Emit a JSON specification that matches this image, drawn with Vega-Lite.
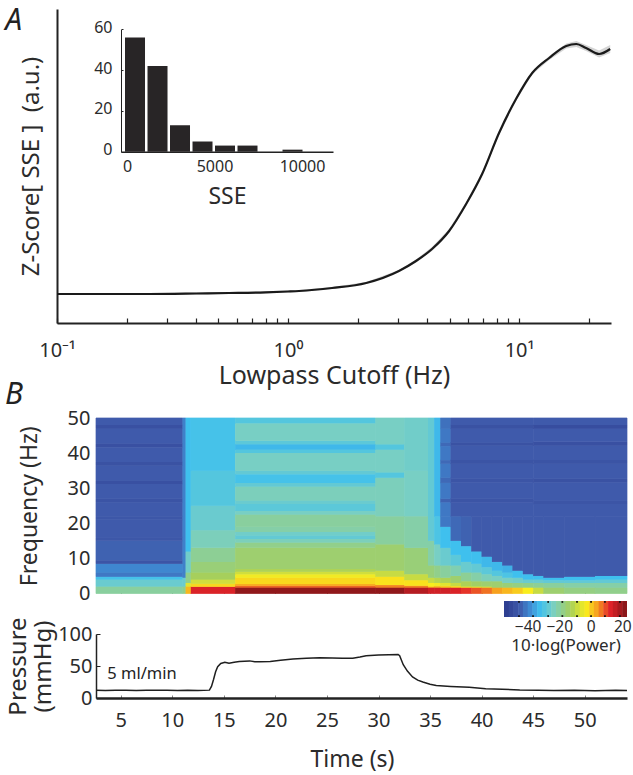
{"$schema":"https://vega.github.io/schema/vega-lite/v6.json","background":"white","padding":{"left":5,"top":5,"right":0,"bottom":12},"bounds":"flush","spacing":95,"config":{"view":{"stroke":null},"font":"Noto Sans","text":{"font":"Noto Sans"},"axis":{"labelColor":"#2b2b2b","titleColor":"#2b2b2b","titleFontWeight":"normal","grid":false,"labelFont":"Noto Sans","titleFont":"Noto Sans"},"legend":{"labelColor":"#2b2b2b","titleColor":"#2b2b2b","labelFont":"Noto Sans","titleFont":"Noto Sans"}},
"datasets":{
"curve":[{"f":0.1,"z":29,"lo":28,"hi":30},{"f":0.15,"z":29,"lo":28,"hi":30},{"f":0.25,"z":29,"lo":28,"hi":30},{"f":0.4,"z":29.5,"lo":28.5,"hi":30.5},{"f":0.556,"z":30,"lo":29,"hi":31},{"f":0.8,"z":30.7,"lo":29.7,"hi":31.7},{"f":1,"z":31.5,"lo":30.5,"hi":32.5},{"f":1.116,"z":32,"lo":31,"hi":33},{"f":1.55,"z":35,"lo":34,"hi":36},{"f":2.18,"z":40,"lo":39,"hi":41},{"f":3.02,"z":52,"lo":51,"hi":53},{"f":3.58,"z":62,"lo":60.5,"hi":63.5},{"f":4.2,"z":74,"lo":72,"hi":76},{"f":4.98,"z":92,"lo":90,"hi":94},{"f":5.9,"z":119,"lo":117,"hi":121},{"f":6.92,"z":149,"lo":147,"hi":151},{"f":8.19,"z":190,"lo":188,"hi":192},{"f":9.7,"z":224,"lo":222,"hi":226},{"f":11.4,"z":250,"lo":248.5,"hi":251.5},{"f":13.5,"z":265,"lo":263,"hi":267},{"f":16,"z":277,"lo":274.5,"hi":279.5},{"f":17.7,"z":279,"lo":276,"hi":282},{"f":19.5,"z":275,"lo":272,"hi":278},{"f":22.2,"z":269,"lo":265.5,"hi":272.5},{"f":24.8,"z":274,"lo":270,"hi":278}],
"hist":[{"a":-114,"b":1029,"n":56},{"a":1172,"b":2315,"n":42},{"a":2457,"b":3600,"n":13},{"a":3743,"b":4886,"n":5},{"a":5029,"b":6172,"n":3},{"a":6314,"b":7457,"n":3},{"a":8886,"b":10029,"n":1}],
"bar":[{"a":-55,"b":-51.7,"v":-53.5},{"a":-52,"b":-48.7,"v":-50.5},{"a":-49,"b":-45.7,"v":-47.5},{"a":-46,"b":-42.7,"v":-44.5},{"a":-43,"b":-39.7,"v":-41.5},{"a":-40,"b":-36.7,"v":-38.5},{"a":-37,"b":-33.7,"v":-35.5},{"a":-34,"b":-30.7,"v":-32.5},{"a":-31,"b":-27.7,"v":-29.5},{"a":-28,"b":-24.7,"v":-26.5},{"a":-25,"b":-21.7,"v":-23.5},{"a":-22,"b":-18.7,"v":-20.5},{"a":-19,"b":-15.7,"v":-17.5},{"a":-16,"b":-12.7,"v":-14.5},{"a":-13,"b":-9.7,"v":-11.5},{"a":-10,"b":-6.7,"v":-8.5},{"a":-7,"b":-3.7,"v":-5.5},{"a":-4,"b":-0.7,"v":-2.5},{"a":-1,"b":2.3,"v":0.5},{"a":2,"b":5.3,"v":3.5},{"a":5,"b":8.3,"v":6.5},{"a":8,"b":11.3,"v":9.5},{"a":11,"b":14.3,"v":12.5},{"a":14,"b":17.3,"v":15.5},{"a":17,"b":20.3,"v":18.5},{"a":20,"b":23,"v":21.5}],
"dots":[{"v":-45.5,"y":0.06},{"v":-36.6,"y":0.06},{"v":-27,"y":0.06},{"v":-18,"y":0.06},{"v":-8.7,"y":0.06},{"v":0.2,"y":0.06},{"v":9,"y":0.06},{"v":18.5,"y":0.06},{"v":-45.5,"y":0.94},{"v":-36.6,"y":0.94},{"v":-27,"y":0.94},{"v":-18,"y":0.94},{"v":-8.7,"y":0.94},{"v":0.2,"y":0.94},{"v":9,"y":0.94},{"v":18.5,"y":0.94}],
"press":[{"t":2.6,"p":12},{"t":3.5,"p":11.7},{"t":4.5,"p":12.2},{"t":5.5,"p":12},{"t":6.5,"p":11.8},{"t":7.5,"p":12.3},{"t":8.5,"p":12},{"t":9.5,"p":12.3},{"t":10.5,"p":11.9},{"t":11.5,"p":12.2},{"t":12.5,"p":11.9},{"t":13.6,"p":12.3},{"t":13.8,"p":18},{"t":14,"p":29},{"t":14.2,"p":41},{"t":14.4,"p":49},{"t":14.7,"p":54},{"t":15.1,"p":56},{"t":15.5,"p":54.5},{"t":16,"p":56},{"t":16.5,"p":57},{"t":17,"p":57.5},{"t":17.5,"p":58},{"t":18,"p":56.5},{"t":18.5,"p":56.5},{"t":19.5,"p":57},{"t":20.5,"p":59},{"t":21.7,"p":61},{"t":23,"p":62},{"t":24.3,"p":63},{"t":25.5,"p":62.5},{"t":26.5,"p":62},{"t":27.5,"p":62},{"t":28.2,"p":64},{"t":28.8,"p":66},{"t":30,"p":67},{"t":31,"p":67.5},{"t":31.9,"p":68},{"t":32.05,"p":66},{"t":32.4,"p":52},{"t":32.8,"p":42},{"t":33.3,"p":33},{"t":33.8,"p":28},{"t":34.3,"p":25},{"t":35,"p":21.5},{"t":35.6,"p":19.5},{"t":37,"p":18},{"t":38.8,"p":16.7},{"t":40.4,"p":14.6},{"t":42,"p":13.8},{"t":43.7,"p":12.5},{"t":45.5,"p":12},{"t":47,"p":11.7},{"t":49,"p":12},{"t":51,"p":11.5},{"t":53,"p":12},{"t":54.1,"p":11.7}],
"heat":[
{"t":2.6,"t2":11,"f":0,"f2":2,"v":-20},{"t":2.6,"t2":11,"f":2,"f2":4,"v":-26},{"t":2.6,"t2":11,"f":4,"f2":4.8,"v":-31},{"t":2.6,"t2":11,"f":4.8,"f2":6,"v":-41},{"t":2.6,"t2":11,"f":6,"f2":8.5,"v":-39},{"t":2.6,"t2":11,"f":8.5,"f2":9.5,"v":-46.5},{"t":2.6,"t2":11,"f":9.5,"f2":15,"v":-44},{"t":2.6,"t2":11,"f":15,"f2":16,"v":-46},{"t":2.6,"t2":11,"f":16,"f2":21,"v":-45},{"t":2.6,"t2":11,"f":21,"f2":22,"v":-46},{"t":2.6,"t2":11,"f":22,"f2":26,"v":-45},{"t":2.6,"t2":11,"f":26,"f2":27,"v":-47},{"t":2.6,"t2":11,"f":27,"f2":31.2,"v":-45},{"t":2.6,"t2":11,"f":31.2,"f2":32.2,"v":-48},{"t":2.6,"t2":11,"f":32.2,"f2":36.5,"v":-45},{"t":2.6,"t2":11,"f":36.5,"f2":37.5,"v":-47.5},{"t":2.6,"t2":11,"f":37.5,"f2":41.7,"v":-45},{"t":2.6,"t2":11,"f":41.7,"f2":42.7,"v":-48},{"t":2.6,"t2":11,"f":42.7,"f2":47,"v":-45},{"t":2.6,"t2":11,"f":47,"f2":48,"v":-48},{"t":2.6,"t2":11,"f":48,"f2":50,"v":-45},
{"t":11,"t2":11.3,"f":0,"f2":2,"v":-18},{"t":11,"t2":11.3,"f":2,"f2":4.5,"v":-26},{"t":11,"t2":11.3,"f":4.5,"f2":50,"v":-40},
{"t":11.3,"t2":11.8,"f":0,"f2":2,"v":2},{"t":11.3,"t2":11.8,"f":2,"f2":3,"v":-6},{"t":11.3,"t2":11.8,"f":3,"f2":6,"v":-18},{"t":11.3,"t2":11.8,"f":6,"f2":12,"v":-25},{"t":11.3,"t2":11.8,"f":12,"f2":50,"v":-32},
{"t":11.8,"t2":16.1,"f":0,"f2":1.9,"v":13},{"t":11.8,"t2":16.1,"f":1.9,"f2":2.8,"v":-1},{"t":11.8,"t2":16.1,"f":2.8,"f2":4,"v":-8},{"t":11.8,"t2":16.1,"f":4,"f2":6,"v":-13},{"t":11.8,"t2":16.1,"f":6,"f2":9,"v":-16},{"t":11.8,"t2":16.1,"f":9,"f2":13,"v":-19},{"t":11.8,"t2":16.1,"f":13,"f2":18,"v":-23},{"t":11.8,"t2":16.1,"f":18,"f2":25,"v":-26},{"t":11.8,"t2":16.1,"f":25,"f2":35,"v":-29},{"t":11.8,"t2":16.1,"f":35,"f2":50,"v":-31},
{"t":16.1,"t2":29.7,"f":0,"f2":1.7,"v":21},{"t":16.1,"t2":29.7,"f":1.7,"f2":2.2,"v":8},{"t":16.1,"t2":29.7,"f":2.2,"f2":2.7,"v":3},{"t":16.1,"t2":29.7,"f":2.7,"f2":4.5,"v":-1},{"t":16.1,"t2":29.7,"f":4.5,"f2":5.5,"v":-4},{"t":16.1,"t2":29.7,"f":5.5,"f2":6.2,"v":-8},{"t":16.1,"t2":29.7,"f":6.2,"f2":7,"v":-12},{"t":16.1,"t2":29.7,"f":7,"f2":13,"v":-15},{"t":16.1,"t2":29.7,"f":13,"f2":14.5,"v":-18},{"t":16.1,"t2":29.7,"f":14.5,"f2":15.5,"v":-23},{"t":16.1,"t2":29.7,"f":15.5,"f2":16.5,"v":-27},{"t":16.1,"t2":29.7,"f":16.5,"f2":17.5,"v":-25},{"t":16.1,"t2":29.7,"f":17.5,"f2":19,"v":-21},{"t":16.1,"t2":29.7,"f":19,"f2":22.5,"v":-20},{"t":16.1,"t2":29.7,"f":22.5,"f2":23.5,"v":-24},{"t":16.1,"t2":29.7,"f":23.5,"f2":25.5,"v":-28},{"t":16.1,"t2":29.7,"f":25.5,"f2":26.5,"v":-26},{"t":16.1,"t2":29.7,"f":26.5,"f2":30.5,"v":-23},{"t":16.1,"t2":29.7,"f":30.5,"f2":31.5,"v":-27},{"t":16.1,"t2":29.7,"f":31.5,"f2":34,"v":-31},{"t":16.1,"t2":29.7,"f":34,"f2":35,"v":-27},{"t":16.1,"t2":29.7,"f":35,"f2":40,"v":-24},{"t":16.1,"t2":29.7,"f":40,"f2":41,"v":-29},{"t":16.1,"t2":29.7,"f":41,"f2":42.5,"v":-33},{"t":16.1,"t2":29.7,"f":42.5,"f2":43.5,"v":-28},{"t":16.1,"t2":29.7,"f":43.5,"f2":48.5,"v":-24},{"t":16.1,"t2":29.7,"f":48.5,"f2":50,"v":-29},
{"t":29.7,"t2":32.5,"f":0,"f2":1.7,"v":21},{"t":29.7,"t2":32.5,"f":1.7,"f2":2.4,"v":6},{"t":29.7,"t2":32.5,"f":2.4,"f2":4.8,"v":-2},{"t":29.7,"t2":32.5,"f":4.8,"f2":6.5,"v":-9},{"t":29.7,"t2":32.5,"f":6.5,"f2":14,"v":-15},{"t":29.7,"t2":32.5,"f":14,"f2":22,"v":-20},{"t":29.7,"t2":32.5,"f":22,"f2":33,"v":-23},{"t":29.7,"t2":32.5,"f":33,"f2":34.5,"v":-29},{"t":29.7,"t2":32.5,"f":34.5,"f2":41,"v":-24},{"t":29.7,"t2":32.5,"f":41,"f2":42.5,"v":-29},{"t":29.7,"t2":32.5,"f":42.5,"f2":50,"v":-24},
{"t":32.5,"t2":34.8,"f":0,"f2":1.7,"v":17},{"t":32.5,"t2":34.8,"f":1.7,"f2":2.2,"v":6},{"t":32.5,"t2":34.8,"f":2.2,"f2":3.8,"v":-2},{"t":32.5,"t2":34.8,"f":3.8,"f2":5.5,"v":-9},{"t":32.5,"t2":34.8,"f":5.5,"f2":13,"v":-16},{"t":32.5,"t2":34.8,"f":13,"f2":22,"v":-21},{"t":32.5,"t2":34.8,"f":22,"f2":35,"v":-24},{"t":32.5,"t2":34.8,"f":35,"f2":50,"v":-25},
{"t":34.8,"t2":35.4,"f":0,"f2":1.7,"v":14},{"t":34.8,"t2":35.4,"f":1.7,"f2":2,"v":3},{"t":34.8,"t2":35.4,"f":2,"f2":3,"v":-3},{"t":34.8,"t2":35.4,"f":3,"f2":4.5,"v":-9},{"t":34.8,"t2":35.4,"f":4.5,"f2":8,"v":-16},{"t":34.8,"t2":35.4,"f":8,"f2":15,"v":-21},{"t":34.8,"t2":35.4,"f":15,"f2":50,"v":-27},
{"t":35.4,"t2":36,"f":0,"f2":1.7,"v":14},{"t":35.4,"t2":36,"f":1.7,"f2":2.1,"v":3},{"t":35.4,"t2":36,"f":2.1,"f2":3,"v":-4},{"t":35.4,"t2":36,"f":3,"f2":4.5,"v":-11},{"t":35.4,"t2":36,"f":4.5,"f2":8,"v":-18},{"t":35.4,"t2":36,"f":8,"f2":14,"v":-24},{"t":35.4,"t2":36,"f":14,"f2":22,"v":-30},{"t":35.4,"t2":36,"f":22,"f2":50,"v":-33},
{"t":36,"t2":37,"f":0,"f2":1.7,"v":14},{"t":36,"t2":37,"f":1.7,"f2":2.2,"v":0},{"t":36,"t2":37,"f":2.2,"f2":3,"v":-6},{"t":36,"t2":37,"f":3,"f2":4.5,"v":-12},{"t":36,"t2":37,"f":4.5,"f2":8,"v":-20},{"t":36,"t2":37,"f":8,"f2":13,"v":-26},{"t":36,"t2":37,"f":13,"f2":19,"v":-32},{"t":36,"t2":37,"f":19,"f2":22,"v":-41},
{"t":37,"t2":38,"f":0,"f2":1.7,"v":13},{"t":37,"t2":38,"f":1.7,"f2":2.1,"v":-1},{"t":37,"t2":38,"f":2.1,"f2":3,"v":-9},{"t":37,"t2":38,"f":3,"f2":5,"v":-15},{"t":37,"t2":38,"f":5,"f2":8,"v":-22},{"t":37,"t2":38,"f":8,"f2":11,"v":-28},{"t":37,"t2":38,"f":11,"f2":15,"v":-32},{"t":37,"t2":38,"f":15,"f2":22,"v":-43},
{"t":38,"t2":39,"f":0,"f2":1.7,"v":11},{"t":38,"t2":39,"f":1.7,"f2":2,"v":-4},{"t":38,"t2":39,"f":2,"f2":3.5,"v":-12},{"t":38,"t2":39,"f":3.5,"f2":6,"v":-19},{"t":38,"t2":39,"f":6,"f2":9,"v":-26},{"t":38,"t2":39,"f":9,"f2":13.5,"v":-32},{"t":38,"t2":39,"f":13.5,"f2":22,"v":-44},
{"t":39,"t2":40,"f":0,"f2":1.7,"v":9},{"t":39,"t2":40,"f":1.7,"f2":2,"v":-5},{"t":39,"t2":40,"f":2,"f2":3.5,"v":-14},{"t":39,"t2":40,"f":3.5,"f2":6,"v":-21},{"t":39,"t2":40,"f":6,"f2":8.5,"v":-27},{"t":39,"t2":40,"f":8.5,"f2":12,"v":-32},{"t":39,"t2":40,"f":12,"f2":22,"v":-45},
{"t":40,"t2":41,"f":0,"f2":1.7,"v":7},{"t":40,"t2":41,"f":1.7,"f2":2,"v":-7},{"t":40,"t2":41,"f":2,"f2":3.5,"v":-15},{"t":40,"t2":41,"f":3.5,"f2":5.5,"v":-23},{"t":40,"t2":41,"f":5.5,"f2":7.5,"v":-28},{"t":40,"t2":41,"f":7.5,"f2":10.5,"v":-33},{"t":40,"t2":41,"f":10.5,"f2":22,"v":-45},
{"t":41,"t2":42,"f":0,"f2":1.7,"v":4},{"t":41,"t2":42,"f":1.7,"f2":3.5,"v":-15},{"t":41,"t2":42,"f":3.5,"f2":5,"v":-24},{"t":41,"t2":42,"f":5,"f2":6.5,"v":-29},{"t":41,"t2":42,"f":6.5,"f2":9,"v":-33},{"t":41,"t2":42,"f":9,"f2":22,"v":-45},
{"t":42,"t2":43,"f":0,"f2":1.7,"v":2},{"t":42,"t2":43,"f":1.7,"f2":3,"v":-16},{"t":42,"t2":43,"f":3,"f2":4.5,"v":-24},{"t":42,"t2":43,"f":4.5,"f2":6,"v":-30},{"t":42,"t2":43,"f":6,"f2":8,"v":-34},{"t":42,"t2":43,"f":8,"f2":22,"v":-45},
{"t":43,"t2":44,"f":0,"f2":1.7,"v":0},{"t":43,"t2":44,"f":1.7,"f2":3,"v":-17},{"t":43,"t2":44,"f":3,"f2":4.5,"v":-25},{"t":43,"t2":44,"f":4.5,"f2":6.5,"v":-32},{"t":43,"t2":44,"f":6.5,"f2":22,"v":-45},
{"t":44,"t2":45,"f":0,"f2":1.7,"v":-3},{"t":44,"t2":45,"f":1.7,"f2":3,"v":-18},{"t":44,"t2":45,"f":3,"f2":4,"v":-26},{"t":44,"t2":45,"f":4,"f2":5.5,"v":-32},{"t":44,"t2":45,"f":5.5,"f2":22,"v":-45},
{"t":45,"t2":46,"f":0,"f2":1.7,"v":-9},{"t":45,"t2":46,"f":1.7,"f2":3,"v":-19},{"t":45,"t2":46,"f":3,"f2":4,"v":-26},{"t":45,"t2":46,"f":4,"f2":5,"v":-32},{"t":45,"t2":46,"f":5,"f2":22,"v":-45},
{"t":46,"t2":48,"f":0,"f2":1.7,"v":-15},{"t":46,"t2":48,"f":1.7,"f2":3,"v":-20},{"t":46,"t2":48,"f":3,"f2":3.8,"v":-27},{"t":46,"t2":48,"f":3.8,"f2":4.5,"v":-32},{"t":46,"t2":48,"f":4.5,"f2":22,"v":-45},
{"t":48,"t2":51,"f":0,"f2":1.7,"v":-17},{"t":48,"t2":51,"f":1.7,"f2":3,"v":-21},{"t":48,"t2":51,"f":3,"f2":3.8,"v":-27},{"t":48,"t2":51,"f":3.8,"f2":4.8,"v":-32},{"t":48,"t2":51,"f":4.8,"f2":22,"v":-45},
{"t":51,"t2":54.1,"f":0,"f2":1.7,"v":-18},{"t":51,"t2":54.1,"f":1.7,"f2":3,"v":-21},{"t":51,"t2":54.1,"f":3,"f2":4,"v":-27},{"t":51,"t2":54.1,"f":4,"f2":5,"v":-32},{"t":51,"t2":54.1,"f":5,"f2":22,"v":-45},
{"t":36,"t2":37,"f":22,"f2":26,"v":-41},{"t":36,"t2":37,"f":26,"f2":27,"v":-44},{"t":36,"t2":37,"f":27,"f2":31.5,"v":-41},{"t":36,"t2":37,"f":31.5,"f2":33,"v":-43},{"t":36,"t2":37,"f":33,"f2":37,"v":-41},{"t":36,"t2":37,"f":37,"f2":38,"v":-43},{"t":36,"t2":37,"f":38,"f2":42,"v":-41},{"t":36,"t2":37,"f":42,"f2":43,"v":-43},{"t":36,"t2":37,"f":43,"f2":47,"v":-41},{"t":36,"t2":37,"f":47,"f2":50,"v":-42},
{"t":37,"t2":45,"f":22,"f2":26,"v":-45},{"t":37,"t2":45,"f":26,"f2":27,"v":-46.5},{"t":37,"t2":45,"f":27,"f2":31.7,"v":-45},{"t":37,"t2":45,"f":31.7,"f2":32.7,"v":-46.5},{"t":37,"t2":45,"f":32.7,"f2":37,"v":-45},{"t":37,"t2":45,"f":37,"f2":38,"v":-47},{"t":37,"t2":45,"f":38,"f2":42.2,"v":-45},{"t":37,"t2":45,"f":42.2,"f2":43,"v":-47.5},{"t":37,"t2":45,"f":43,"f2":47,"v":-45},{"t":37,"t2":45,"f":47,"f2":48,"v":-47.5},{"t":37,"t2":45,"f":48,"f2":50,"v":-45},
{"t":45,"t2":54.1,"f":22,"f2":25.5,"v":-45},{"t":45,"t2":54.1,"f":25.5,"f2":26.5,"v":-46.5},{"t":45,"t2":54.1,"f":26.5,"f2":31.7,"v":-45},{"t":45,"t2":54.1,"f":31.7,"f2":32.7,"v":-47.5},{"t":45,"t2":54.1,"f":32.7,"f2":37,"v":-45},{"t":45,"t2":54.1,"f":37,"f2":38,"v":-47},{"t":45,"t2":54.1,"f":38,"f2":42.2,"v":-45},{"t":45,"t2":54.1,"f":42.2,"f2":43.2,"v":-48},{"t":45,"t2":54.1,"f":43.2,"f2":47,"v":-45},{"t":45,"t2":54.1,"f":47,"f2":48,"v":-49},{"t":45,"t2":54.1,"f":48,"f2":50,"v":-45}
]},
"vconcat":[
{"width":554,"height":314,"resolve":{"scale":{"x":"independent","y":"independent"},"axis":{"x":"independent","y":"independent"}},
"layer":[
{"layer":[
{"data":{"name":"curve"},"mark":{"type":"area","color":"#c9c9c9","opacity":0.8},"encoding":{"x":{"field":"f","type":"quantitative","scale":{"type":"log","domain":[0.1,25],"nice":false},"axis":{"values":[0.1,0.2,0.3,0.4,0.5,0.6,0.7,0.8,0.9,1,2,3,4,5,6,7,8,9,10,20],"domainWidth":2,"domainColor":"#222","tickColor":"#222","tickWidth":1.2,"tickSize":-5,"encoding":{"ticks":{"update":{"y2":{"signal":"datum.value==1||datum.value==10||datum.value==0.1?-11:-5"}}}},"labelFontSize":20,"labelExpr":"datum.value==0.1?'10⁻¹':datum.value==1?'10⁰':datum.value==10?'10¹':''","labelPadding":22,"labelOverlap":false,"labelBound":false,"labelFlush":false,"title":"Lowpass Cutoff (Hz)","titleFontSize":25,"titlePadding":3}},"y":{"field":"lo","type":"quantitative","scale":{"domain":[0,314],"nice":false},"axis":{"ticks":false,"labels":false,"domainWidth":2,"domainColor":"#222","title":"Z-Score[ SSE ]\u00a0\u00a0(a.u.)","titleFontSize":24,"titlePadding":14}},"y2":{"field":"hi"}}},
{"data":{"name":"curve"},"mark":{"type":"line","color":"#1a1a1a","strokeWidth":2.2,"interpolate":"monotone"},"encoding":{"x":{"field":"f","type":"quantitative","axis":{"values":[0.1,0.2,0.3,0.4,0.5,0.6,0.7,0.8,0.9,1,2,3,4,5,6,7,8,9,10,20],"domainWidth":2,"domainColor":"#222","tickColor":"#222","tickWidth":1.2,"tickSize":-5,"encoding":{"ticks":{"update":{"y2":{"signal":"datum.value==1||datum.value==10||datum.value==0.1?-11:-5"}}}},"labelFontSize":20,"labelExpr":"datum.value==0.1?'10⁻¹':datum.value==1?'10⁰':datum.value==10?'10¹':''","labelPadding":22,"labelOverlap":false,"labelBound":false,"labelFlush":false,"title":"Lowpass Cutoff (Hz)","titleFontSize":25,"titlePadding":3}},"y":{"field":"z","type":"quantitative","axis":{"ticks":false,"labels":false,"domainWidth":2,"domainColor":"#222","title":"Z-Score[ SSE ]\u00a0\u00a0(a.u.)","titleFontSize":24,"titlePadding":14}}}},
{"data":{"values":[{"f":0.065,"z":302,"s":"A"}]},"mark":{"type":"text","fontSize":30,"fontStyle":"italic","color":"#222"},"encoding":{"x":{"field":"f","type":"quantitative","axis":{"values":[0.1,0.2,0.3,0.4,0.5,0.6,0.7,0.8,0.9,1,2,3,4,5,6,7,8,9,10,20],"domainWidth":2,"domainColor":"#222","tickColor":"#222","tickWidth":1.2,"tickSize":-5,"encoding":{"ticks":{"update":{"y2":{"signal":"datum.value==1||datum.value==10||datum.value==0.1?-11:-5"}}}},"labelFontSize":20,"labelExpr":"datum.value==0.1?'10⁻¹':datum.value==1?'10⁰':datum.value==10?'10¹':''","labelPadding":22,"labelOverlap":false,"labelBound":false,"labelFlush":false,"title":"Lowpass Cutoff (Hz)","titleFontSize":25,"titlePadding":3}},"y":{"field":"z","type":"quantitative","axis":{"ticks":false,"labels":false,"domainWidth":2,"domainColor":"#222","title":"Z-Score[ SSE ]\u00a0\u00a0(a.u.)","titleFontSize":24,"titlePadding":14}},"text":{"field":"s"}}}
]},
{"data":{"name":"hist"},"mark":{"type":"rect","color":"#282526"},"encoding":{"x":{"field":"a","type":"quantitative","scale":{"domain":[-343,11771],"range":[64,276],"nice":false,"zero":false},"axis":{"orient":"bottom","offset":-171.3,"values":[0,5000,10000],"format":"d","ticks":false,"domainWidth":1.5,"domainColor":"#222","labelFontSize":16,"labelPadding":7,"labelFlush":false,"labelBound":false,"title":"SSE","titleFontSize":23,"titlePadding":11}},"x2":{"field":"b"},"y":{"field":"n","type":"quantitative","scale":{"domain":[0,60],"range":[142.7,20.3],"nice":false},"axis":{"orient":"left","offset":-64,"values":[0,20,40,60],"tickSize":-2,"tickColor":"#222","domainWidth":1,"domainColor":"#222","labelFontSize":16,"labelPadding":11,"labelOffset":-2,"title":null}},"y2":{"datum":0}}}
]},
{"bounds":"flush","spacing":40,"vconcat":[
{"width":570,"height":175.5,"resolve":{"scale":{"x":"independent","y":"independent"},"axis":{"x":"independent","y":"independent"}},"layer":[
{"layer":[
{"data":{"name":"heat"},"mark":{"type":"rect","strokeWidth":0.7,"fillOpacity":0},"encoding":{"x":{"field":"t","type":"quantitative","scale":{"domain":[2.6,54.1],"range":[39,570],"nice":false,"zero":false},"axis":{"values":[5,10,15,20,25,30,35,40,45,50],"labels":false,"domain":false,"tickSize":-3,"tickColor":"#666","tickWidth":0.8,"title":null}},"x2":{"field":"t2"},"y":{"field":"f","type":"quantitative","scale":{"domain":[0,50],"nice":false},"axis":{"values":[0,10,20,30,40,50],"offset":-39,"ticks":false,"domain":false,"labelFontSize":20,"labelPadding":6,"labelOverlap":false,"title":"Frequency (Hz)","titleFontSize":23,"titlePadding":26}},"y2":{"field":"f2"},"stroke":{"field":"v","type":"quantitative","legend":null,"scale":{"domain":[-55,-45,-38,-32,-24,-13,-3,4,12,23],"interpolate":"rgb","range":["#2b3a8c","#3f5aab","#3f8fd6","#3fc0ee","#78cfc4","#a6cf5c","#f9ed1d","#f7a11f","#e3242a","#7d1518"]}}}},
{"data":{"name":"heat"},"mark":{"type":"rect"},"encoding":{"x":{"field":"t","type":"quantitative","axis":{"values":[5,10,15,20,25,30,35,40,45,50],"labels":false,"domain":false,"tickSize":-3,"tickColor":"#666","tickWidth":0.8,"title":null}},"x2":{"field":"t2"},"y":{"field":"f","type":"quantitative","axis":{"values":[0,10,20,30,40,50],"offset":-39,"ticks":false,"domain":false,"labelFontSize":20,"labelPadding":6,"labelOverlap":false,"title":"Frequency (Hz)","titleFontSize":23,"titlePadding":26}},"y2":{"field":"f2"},"color":{"field":"v","type":"quantitative","scale":{"domain":[-55,-45,-38,-32,-24,-13,-3,4,12,23],"interpolate":"rgb","range":["#2b3a8c","#3f5aab","#3f8fd6","#3fc0ee","#78cfc4","#a6cf5c","#f9ed1d","#f7a11f","#e3242a","#7d1518"]},"legend":null}}},
{"data":{"values":[{"t":-5.35,"f":56.5,"s":"B"}]},"mark":{"type":"text","fontSize":30,"fontStyle":"italic","color":"#222"},"encoding":{"x":{"field":"t","type":"quantitative","axis":{"values":[5,10,15,20,25,30,35,40,45,50],"labels":false,"domain":false,"tickSize":-3,"tickColor":"#666","tickWidth":0.8,"title":null}},"y":{"field":"f","type":"quantitative","axis":{"values":[0,10,20,30,40,50],"offset":-39,"ticks":false,"domain":false,"labelFontSize":20,"labelPadding":6,"labelOverlap":false,"title":"Frequency (Hz)","titleFontSize":23,"titlePadding":26}},"text":{"field":"s"}}}
]},
{"layer":[
{"data":{"name":"bar"},"mark":{"type":"rect"},"encoding":{"x":{"field":"a","type":"quantitative","scale":{"domain":[-55,23],"range":[447,570],"nice":false,"zero":false},"axis":{"orient":"bottom","offset":23.5,"values":[-40,-20,0,20],"domain":false,"ticks":false,"labelFontSize":15.5,"labelPadding":2,"labelFlush":false,"labelBound":false,"labelOverlap":false,"title":"10·log(Power)","titleFontSize":17,"titlePadding":3}},"x2":{"field":"b"},"y":{"datum":0,"type":"quantitative","scale":{"domain":[0,1],"range":[199,183],"nice":false},"axis":null},"y2":{"datum":1},"color":{"field":"v","type":"quantitative","legend":null}}},
{"data":{"name":"dots"},"mark":{"type":"square","size":3,"color":"#111","opacity":1},"encoding":{"x":{"field":"v","type":"quantitative","axis":{"orient":"bottom","offset":23.5,"values":[-40,-20,0,20],"domain":false,"ticks":false,"labelFontSize":15.5,"labelPadding":2,"labelFlush":false,"labelBound":false,"labelOverlap":false,"title":"10·log(Power)","titleFontSize":17,"titlePadding":3}},"y":{"field":"y","type":"quantitative","axis":null}}}
]}
]},
{"width":570,"height":64,"layer":[
{"data":{"name":"press"},"mark":{"type":"line","color":"#1f1f1f","strokeWidth":1.5},"encoding":{"x":{"field":"t","type":"quantitative","scale":{"domain":[2.6,54.1],"range":[39,570],"nice":false,"zero":false},"axis":{"values":[5,10,15,20,25,30,35,40,45,50],"domainWidth":2.5,"domainColor":"#222","tickSize":-3,"tickColor":"#666","tickWidth":0.8,"labelFontSize":20,"labelPadding":15,"labelFlush":false,"title":"Time (s)","titleFontSize":23,"titlePadding":18,"titleX":295}},"y":{"field":"p","type":"quantitative","scale":{"domain":[0,100],"nice":false},"axis":{"values":[0,50,100],"offset":-39,"domainWidth":1.5,"domainColor":"#222","tickSize":-4,"tickColor":"#222","labelFontSize":20,"labelPadding":8,"title":["Pressure","(mmHg)"],"titleFontSize":24,"titlePadding":2,"titleLineHeight":25}}}},
{"data":{"values":[{"t":7.06,"p":38,"s":"5 ml/min"}]},"mark":{"type":"text","fontSize":16.5,"color":"#222"},"encoding":{"x":{"field":"t","type":"quantitative","axis":{"values":[5,10,15,20,25,30,35,40,45,50],"domainWidth":2.5,"domainColor":"#222","tickSize":-3,"tickColor":"#666","tickWidth":0.8,"labelFontSize":20,"labelPadding":15,"labelFlush":false,"title":"Time (s)","titleFontSize":23,"titlePadding":18,"titleX":295}},"y":{"field":"p","type":"quantitative","axis":{"values":[0,50,100],"offset":-39,"domainWidth":1.5,"domainColor":"#222","tickSize":-4,"tickColor":"#222","labelFontSize":20,"labelPadding":8,"title":["Pressure","(mmHg)"],"titleFontSize":24,"titlePadding":2,"titleLineHeight":25}},"text":{"field":"s"}}}
]}
]}
]}
